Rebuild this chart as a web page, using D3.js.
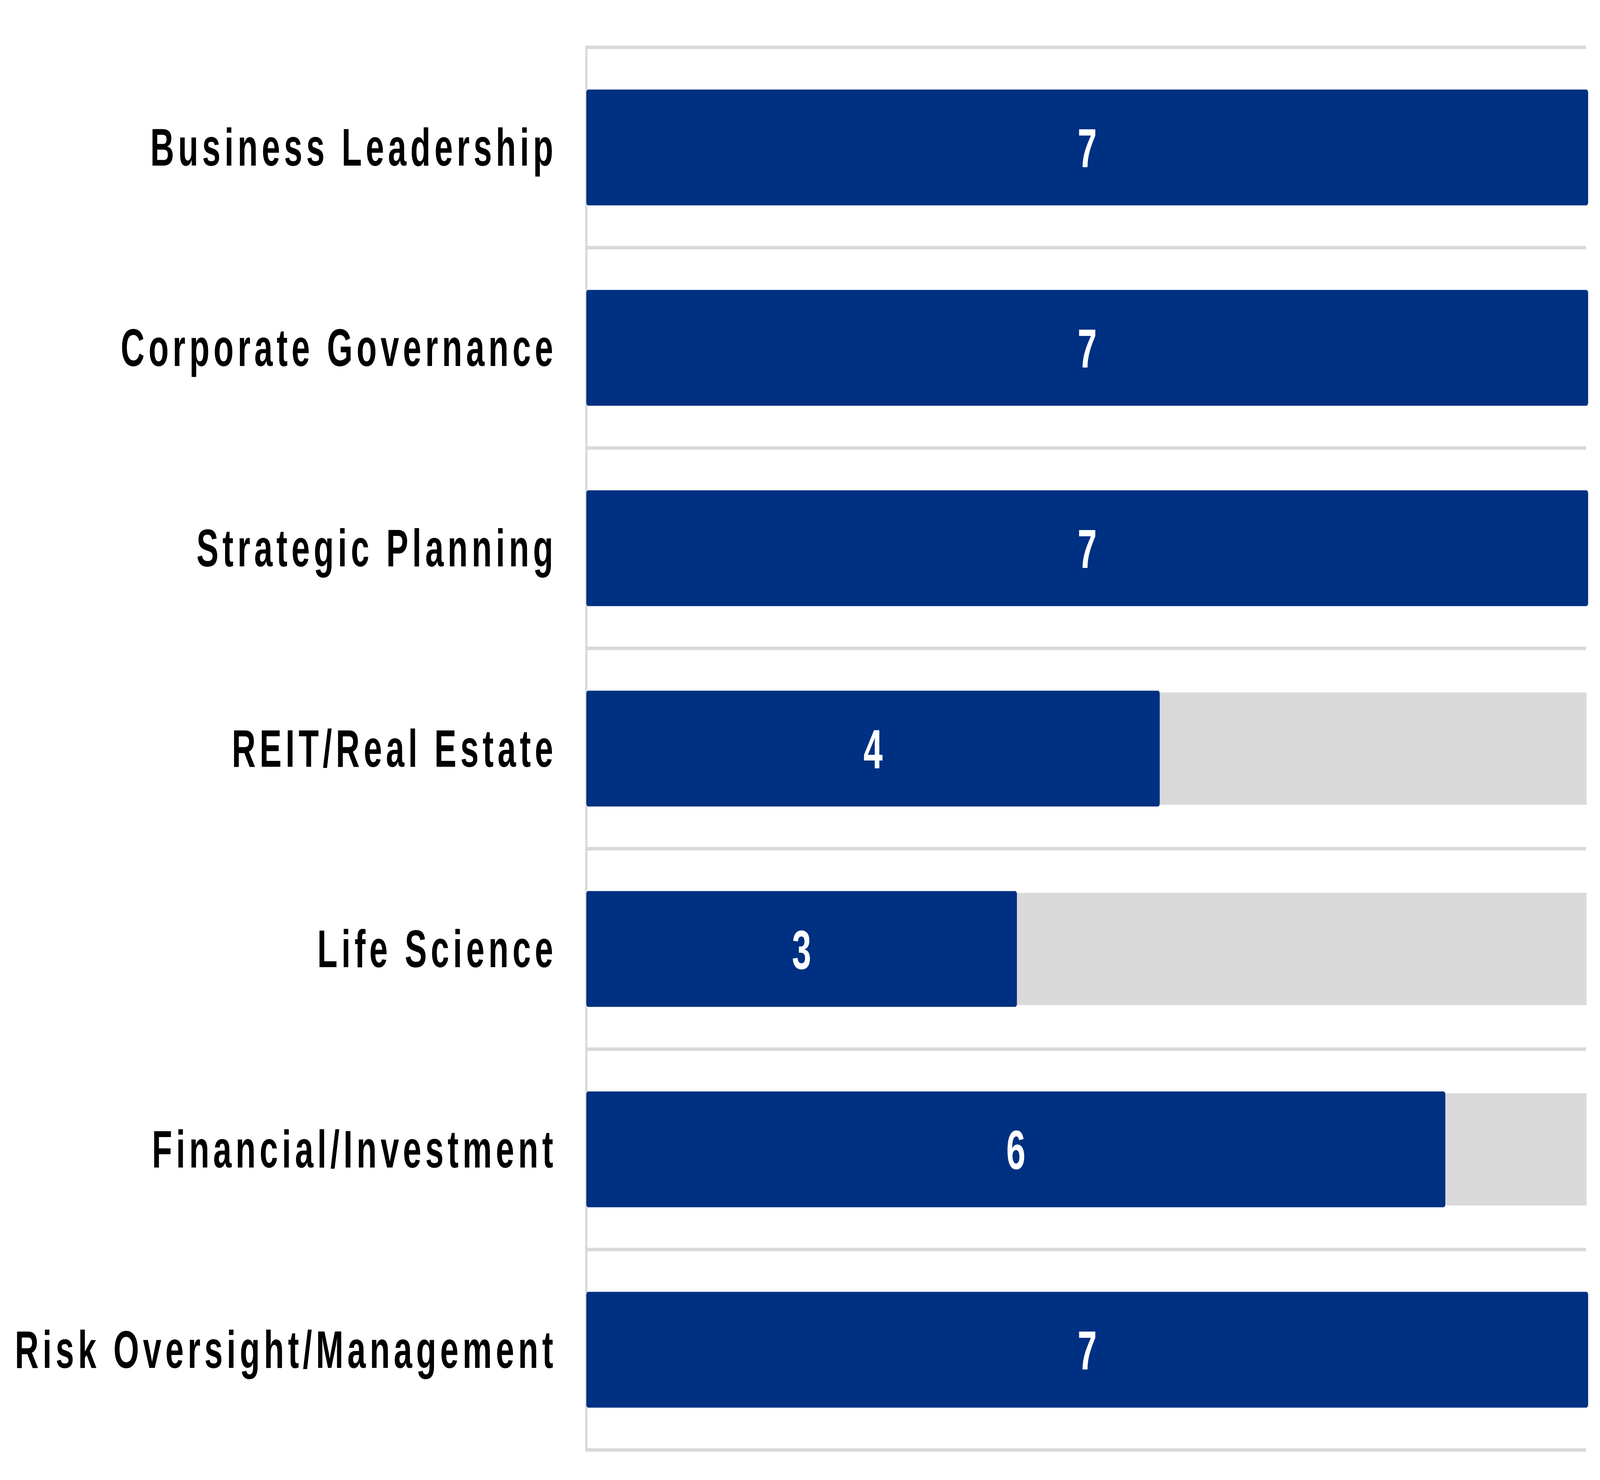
<!DOCTYPE html>
<html>
<head>
<meta charset="utf-8">
<script src="https://cdn.jsdelivr.net/npm/d3@7"></script>
<style>
  html, body { margin: 0; padding: 0; background: #fff; overflow: hidden; }
  #chart { width: 100vw; height: 100vh; }
  svg { display: block; width: 100%; height: 100%; }
</style>
</head>
<body>
<div id="chart"></div>
<script>
// Chart data
const categories = [
  'Business Leadership',
  'Corporate Governance',
  'Strategic Planning',
  'REIT/Real Estate',
  'Life Science',
  'Financial/Investment',
  'Risk Oversight/Management'
];
const values = [7, 7, 7, 4, 3, 6, 7];
const maxValue = 7; // total board members

// drawing space matches the reference picture; it is stretched to the window
const width = 6537;
const height = 3789;
const margin = { top: 121, right: 53, bottom: 77, left: 2400 };

const blue = '#003082';
const grey = '#d9d9d9';

const svg = d3.select('#chart')
  .append('svg')
  .attr('viewBox', `0 0 ${width} ${height}`)
  .attr('preserveAspectRatio', 'none');

const x = d3.scaleLinear()
  .domain([0, maxValue])
  .range([margin.left, width - margin.right]);

const y = d3.scaleBand()
  .domain(categories)
  .range([margin.top, height - margin.bottom])
  .paddingInner(0.44)
  .paddingOuter(0.22);

// Row separators
const step = y.step();
const sepYs = d3.range(categories.length + 1).map(i => margin.top + i * step);

svg.append('g')
  .selectAll('line')
  .data(sepYs)
  .enter().append('line')
  .attr('x1', margin.left - 4)
  .attr('x2', x(maxValue) - 4)
  .attr('y1', d => d)
  .attr('y2', d => d)
  .attr('stroke', grey)
  .attr('stroke-width', 9);

// Left axis line
svg.append('line')
  .attr('x1', margin.left - 4.5)
  .attr('x2', margin.left - 4.5)
  .attr('y1', sepYs[0] - 4)
  .attr('y2', sepYs[sepYs.length - 1] + 4)
  .attr('stroke', grey)
  .attr('stroke-width', 9);

// Remainder (grey) bars
svg.append('g')
  .selectAll('rect')
  .data(categories)
  .enter().append('rect')
  .attr('x', (d, i) => x(values[i]))
  .attr('y', d => y(d))
  .attr('width', (d, i) => Math.max(0, x(maxValue) - x(values[i]) - 2))
  .attr('height', y.bandwidth())
  .attr('fill', grey);

// Value bars
svg.append('g')
  .selectAll('rect')
  .data(categories)
  .enter().append('rect')
  .attr('x', x(0))
  .attr('y', d => y(d))
  .attr('width', (d, i) => x(values[i]) - x(0))
  .attr('height', y.bandwidth())
  .attr('rx', 3)
  .attr('fill', blue)
  .attr('stroke', blue)
  .attr('stroke-width', 9)
  .attr('stroke-linejoin', 'round');

// Value labels
svg.append('g')
  .selectAll('text')
  .data(categories)
  .enter().append('text')
  .attr('x', (d, i) => (x(0) + x(values[i])) / 2)
  .attr('y', d => y(d) + y.bandwidth() / 2 + 51)
  .attr('text-anchor', 'middle')
  .style('font-family', '"Liberation Sans", Arial, sans-serif')
  .style('font-weight', 'bold')
  .style('font-size', '141px')
  .style('fill', '#fff')
  .text((d, i) => values[i]);

// Category labels
svg.append('g')
  .selectAll('text')
  .data(categories)
  .enter().append('text')
  .attr('x', 2276)
  .attr('y', d => y(d) + y.bandwidth() / 2 + 47)
  .attr('text-anchor', 'end')
  .style('font-family', '"Liberation Sans", Arial, sans-serif')
  .style('font-weight', 'bold')
  .style('font-size', '135px')
  .style('letter-spacing', '16px')
  .style('fill', '#000')
  .text(d => d);
</script>
</body>
</html>
